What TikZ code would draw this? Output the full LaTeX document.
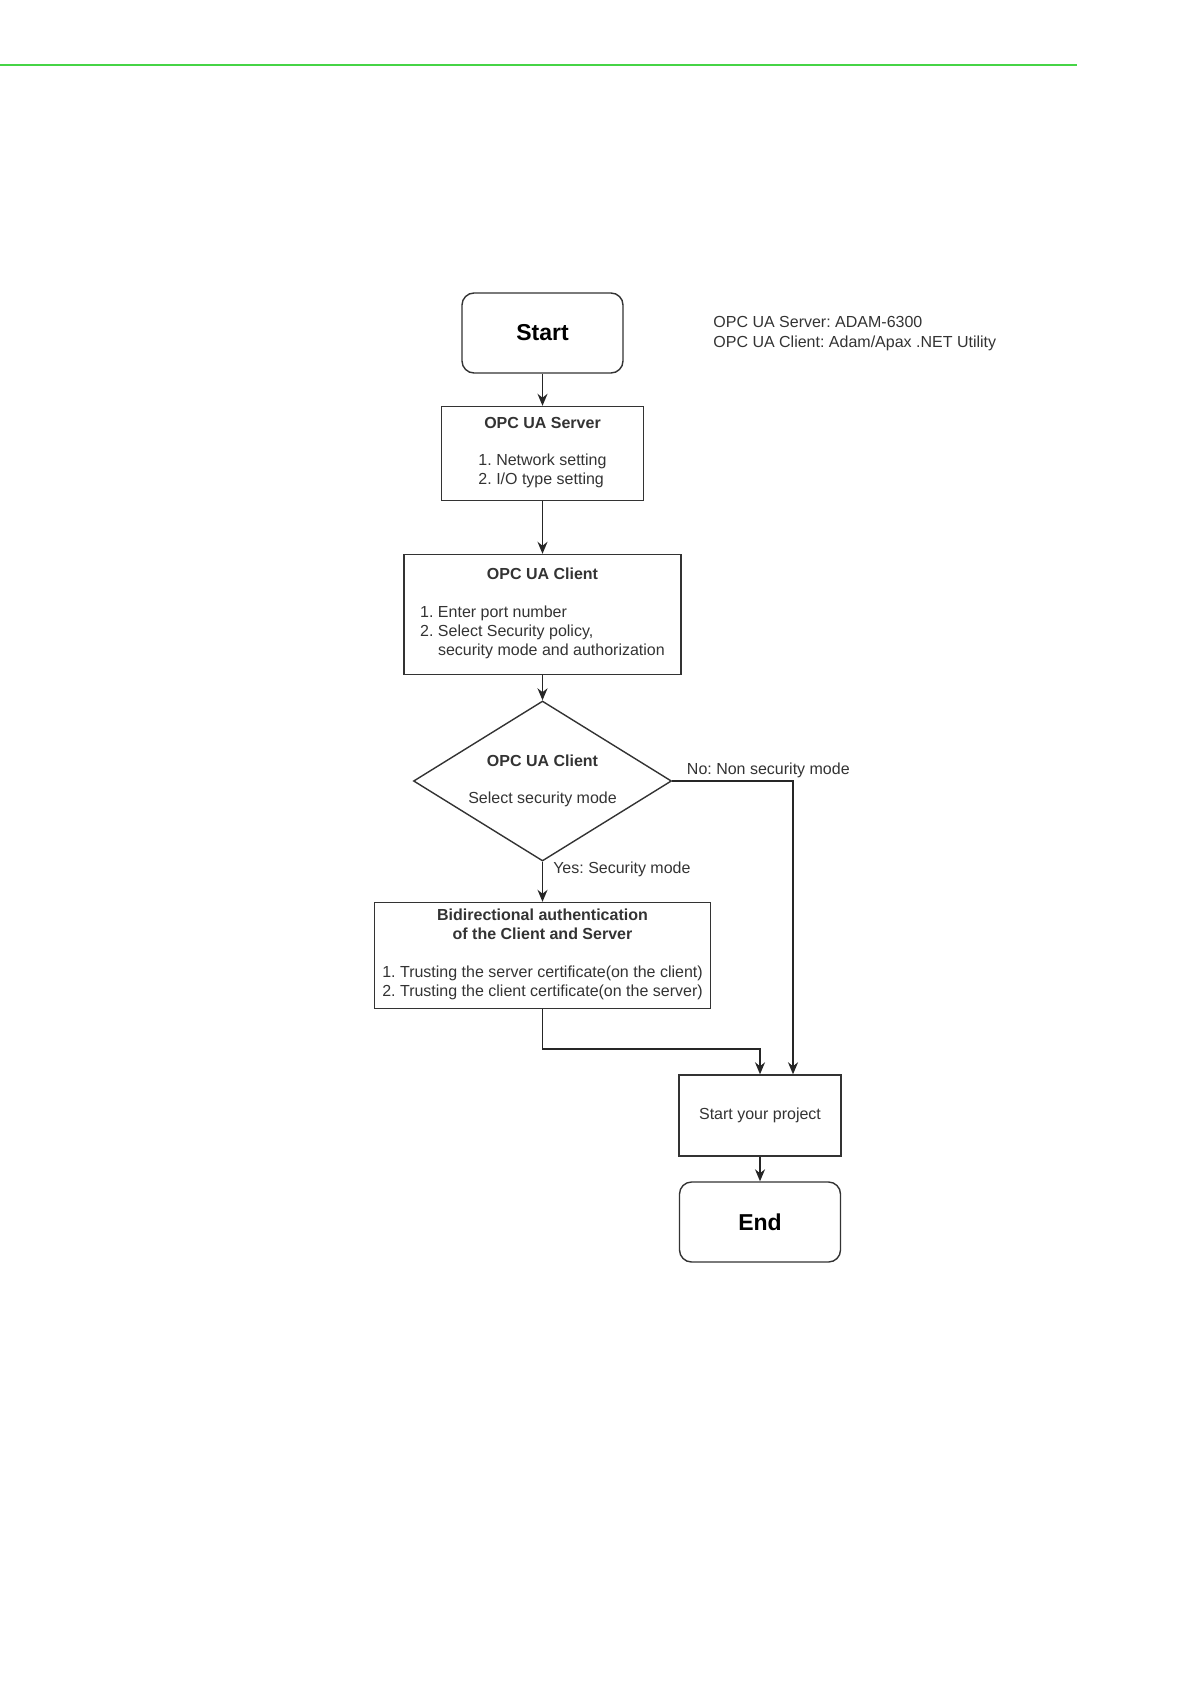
\documentclass[tikz,border=0pt]{standalone}
\usepackage{fontspec}
\setmainfont{Liberation Sans}
\frenchspacing
\usetikzlibrary{arrows.meta,positioning,calc,shapes.geometric}
\definecolor{pagegreen}{RGB}{70,212,70}
\definecolor{inkgray}{RGB}{51,51,51}
\tikzstyle{terminal}=[draw=inkgray,line width=0.7pt,rounded corners=6pt,minimum width=80.5pt,minimum height=40pt,font=\fontsize{11.5}{13}\selectfont\bfseries]
\tikzstyle{process}=[draw=inkgray,line width=0.7pt,rectangle,inner sep=2pt,align=center,text=inkgray,font=\fontsize{8}{9.5}\selectfont]
\tikzstyle{decision}=[draw=inkgray,line width=0.7pt,diamond,aspect=1.6,inner sep=0pt,minimum width=129pt,minimum height=80pt,align=center,text=inkgray,font=\fontsize{8}{9.5}\selectfont]
\tikzstyle{flow}=[draw=black!85,line width=0.75pt,-{Stealth[length=6pt,width=5pt]}]
\tikzstyle{flowlabel}=[inner sep=1pt,text=inkgray,font=\fontsize{8}{9.5}\selectfont]

\begin{document}
\begin{tikzpicture}[x=0.5pt,y=-0.5pt]
    \useasboundingbox (0,0) rectangle (1191,1684);
    \draw[pagegreen,line width=1.2pt] (0,65) -- (1077,65);

    \node [terminal] (start) at (542.5,333) {Start};
    \node [anchor=north west,align=left,inner sep=0pt,text=inkgray,font=\fontsize{8}{10}\selectfont] (note) at (713,316)
      {OPC UA Server: ADAM-6300\\OPC UA Client: Adam/Apax .NET Utility};
    \node [process,minimum width=101pt,minimum height=47pt] (server) at (542.5,453.5)
      {\textbf{OPC UA Server}\\[9.2pt]
       \begin{tabular}[t]{@{}l@{}}1. Network setting\\2. I/O type setting\end{tabular}};
    \node [process,minimum width=138.5pt,minimum height=60pt] (client) at (542.5,614.5)
      {\textbf{OPC UA Client}\\[9.2pt]
       \begin{tabular}[t]{@{}l@{ }l@{}}1. & Enter port number\\2. & Select Security policy,\\ & security mode and authorization\end{tabular}};
    \node [decision] (mode) at (542.5,781)
      {\textbf{OPC UA Client}\\[9.2pt]Select security mode};
    \node [process,minimum width=168pt,minimum height=53pt] (bidir) at (542.5,955.5)
      {\textbf{Bidirectional authentication}\\\textbf{of the Client and Server}\\[9.2pt]
       \begin{tabular}[t]{@{}l@{}}1. Trusting the server certificate(on the client)\\2. Trusting the client certificate(on the server)\end{tabular}};
    \node [process,minimum width=81pt,minimum height=40.5pt] (project) at (760,1115.5) {Start your project};
    \node [terminal] (finish) at (760,1222) {End};

    \coordinate (noturn) at (793,781);
    \coordinate (bend) at (542.5,1049);

    \draw [flow] (start) -- (server);
    \draw [flow] (server) -- (client);
    \draw [flow] (client) -- (mode);
    \draw [flow] (mode) -- node [flowlabel,pos=0.2,anchor=west,xshift=4pt] {Yes: Security mode} (bidir);
    \draw [flow] (mode.east) -- node [flowlabel,pos=0,anchor=south west,xshift=6pt] {No: Non security mode} (noturn)
      -- (noturn |- project.north);
    \draw [flow] (bidir.south) -- (bend) -| (project.north);
    \draw [flow] (project) -- (finish);
\end{tikzpicture}
\end{document}
